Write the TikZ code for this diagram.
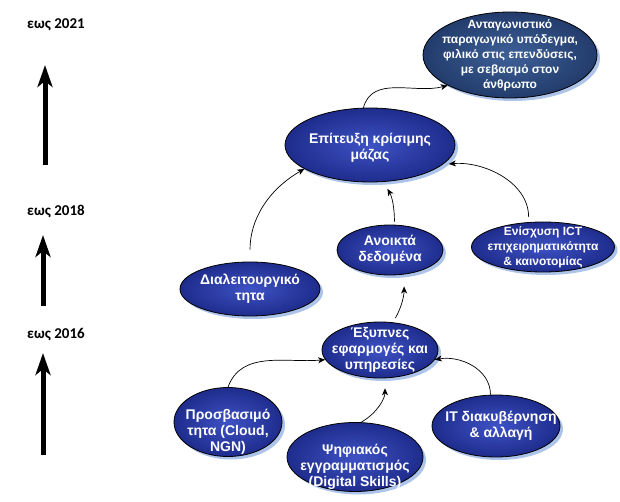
\documentclass[tikz,border=0pt]{standalone}
\usepackage{fontspec}
\setmainfont{Liberation Sans}
\newfontfamily\yearfont{Carlito}
\usetikzlibrary{shapes.geometric,shadows,arrows.meta}
\definecolor{goallight}{RGB}{62,96,152}
\definecolor{goaldark}{RGB}{34,60,108}
\definecolor{nodelight}{RGB}{62,82,196}
\definecolor{nodedark}{RGB}{30,44,140}
\definecolor{glowblue}{RGB}{172,196,234}

\begin{document}
\begin{tikzpicture}[x=1pt,y=-1pt,
bubble/.style={ellipse,draw=black,line width=0.8pt,inner color=nodelight,outer color=nodedark,inner sep=0pt,
    drop shadow={shadow xshift=3pt,shadow yshift=-3pt,fill=glowblue,opacity=1}},
every label/.style={text=white,align=center,
    font=\bfseries\fontsize{14}{16}\selectfont},
small/.style={font=\bfseries\fontsize{12}{15}\selectfont},
link/.style={line width=0.7pt,-{Stealth[length=7pt,width=6pt,inset=2pt]}},
timeline/.style={line width=5pt,-{Stealth[length=22pt,width=15pt,inset=6pt]}},
year/.style={font=\yearfont\bfseries\fontsize{15}{17}\selectfont}]
\useasboundingbox (0,0) rectangle (620,502);

% time axis
\node (y21) [year] at (56,25) {εως 2021};
\node (y18) [year] at (56,211) {εως 2018};
\node (y16) [year] at (56,335) {εως 2016};
\coordinate (t21a) at (45,165);
\coordinate (t21b) at (45,65);
\coordinate (t18a) at (43,306);
\coordinate (t18b) at (43,235);
\coordinate (t16a) at (43,455);
\coordinate (t16b) at (43,353);
\draw [timeline] (t21a) -- (t21b);
\draw [timeline] (t18a) -- (t18b);
\draw [timeline] (t16a) -- (t16b);

% goals
\node (goal) [bubble,inner color=goallight,outer color=goaldark,minimum width=174,minimum height=86,
    label={[small]center:Ανταγωνιστικό\\παραγωγικό υπόδεγμα,\\φιλικό στις επενδύσεις,\\με σεβασμό στον\\άνθρωπο}] at (510,55) {};
\node (mazas) [bubble,minimum width=170,minimum height=74,
    label={[yshift=-3pt]center:Επίτευξη κρίσιμης\\μάζας}] at (370,145) {};

% 2018
\node (opendata) [bubble,minimum width=106,minimum height=50,
    label=center:Ανοικτά\\δεδομένα] at (390,250) {};
\node (interop) [bubble,minimum width=140,minimum height=54,
    label=center:Διαλειτουργικό\\τητα] at (250,289) {};
\node (ict) [bubble,minimum width=143,minimum height=50,
    label={[small]center:Ενίσχυση ICT\\επιχειρηματικότητα\\\& καινοτομίας}] at (543,247) {};

% 2016
\node (smart) [bubble,minimum width=116,minimum height=56,
    label=center:Έξυπνες\\εφαρμογές και\\υπηρεσίες] at (380,350) {};
\node (access) [bubble,minimum width=108,minimum height=69,
    label={[yshift=-10pt]center:Προσβασιμό\\τητα (Cloud,\\NGN)}] at (228,422) {};
\node (skills) [bubble,minimum width=136,minimum height=69,
    label={[yshift=-10pt]center:Ψηφιακός\\εγγραμματισμός\\(Digital Skills)}] at (355,457) {};
\node (itgov) [bubble,minimum width=128,minimum height=62,
    label={[xshift=5pt]center:IT διακυβέρνηση\\\& αλλαγή}] at (496,426) {};

% links
\draw [link] (mazas.100) to[out=75,in=195] (goal.206);
\draw [link,shorten <=12pt] (interop.north) to[out=90,in=210] (mazas.200);
\draw [link,shorten <=3pt,shorten >=8pt] (opendata.80) to[out=90,in=-60] (mazas.-70);
\draw [link,shorten <=5pt,shorten >=6pt] (ict.120) to[out=90,in=5] (mazas.-15);
\draw [link,shorten <=5pt,shorten >=12pt] (smart.65) to[out=60,in=-90] (opendata.-60);
\draw [link] (access.north) to[out=70,in=185] (smart.190);
\draw [link,shorten >=10pt] (skills.80) to[out=30,in=-90] (smart.-80);
\draw [link] (itgov.100) to[out=90,in=10] (smart.-10);
\end{tikzpicture}
\end{document}
